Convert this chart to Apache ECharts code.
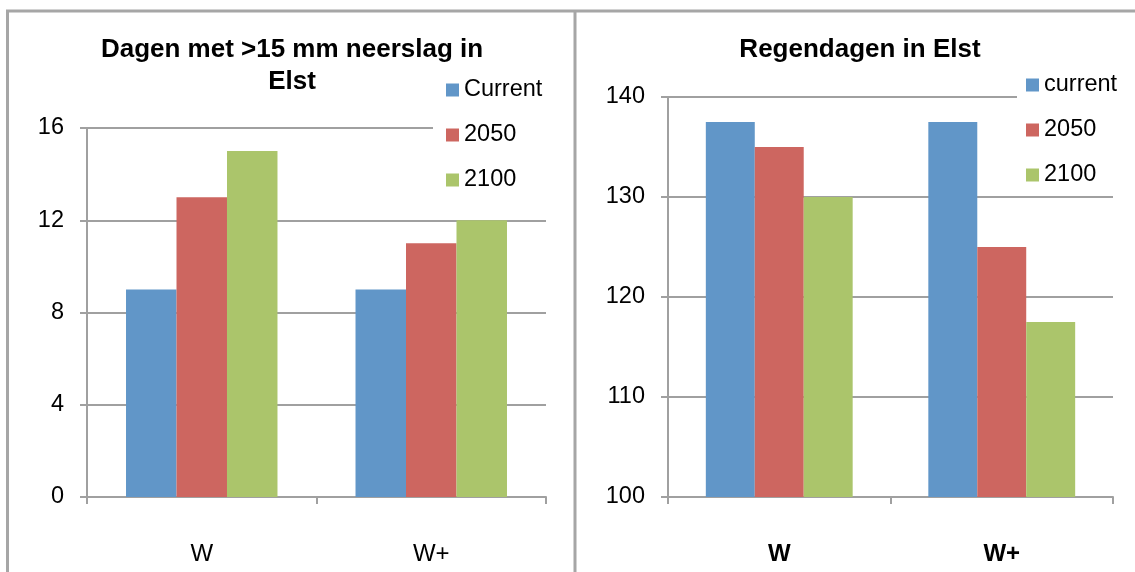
<!DOCTYPE html>
<html>
<head>
<meta charset="utf-8">
<script src="https://cdn.jsdelivr.net/npm/echarts@6/dist/echarts.min.js"></script>
<style>
html, body { margin: 0; padding: 0; background: #fff; }
#main { width: 1135px; height: 572px; }
</style>
</head>
<body>
<div id="main"></div>
<script>
// categories shared by both panels
const categories = ['W', 'W+']
// left panel: days with >15 mm precipitation
const leftCurrent = [9, 9]
const left2050 = [13, 11]
const left2100 = [15, 12]
// right panel: rain days
const rightCurrent = [137.5, 137.5]
const right2050 = [135, 125]
const right2100 = [130, 117.5]

const colors = ['#6196C8', '#CD6660', '#ABC56B']
const font = 'Arial, "Liberation Sans", sans-serif'
const gray = '#a0a0a0'

function yAxis (idx, min, max, interval) {
    return {
        type: 'value',
        gridIndex: idx,
        min: min,
        max: max,
        interval: interval,
        axisLine: { show: true, lineStyle: { color: gray, width: 2 } },
        axisTick: { show: true, length: 7, lineStyle: { color: gray, width: 2 } },
        splitLine: { lineStyle: { color: gray, width: 2 } },
        axisLabel: { margin: 23, color: '#000', fontSize: 23.5, fontFamily: font }
    }
}

function xAxis (idx, bold) {
    return {
        type: 'category',
        gridIndex: idx,
        data: categories,
        axisLine: { lineStyle: { color: gray, width: 2 } },
        axisTick: { show: true, length: 7, lineStyle: { color: gray, width: 2 } },
        axisLabel: {
            margin: 45,
            color: '#000',
            fontSize: 24,
            fontFamily: font,
            fontWeight: bold ? 'bold' : 'normal'
        }
    }
}

function bar (name, data, idx, color) {
    return {
        name: name,
        type: 'bar',
        xAxisIndex: idx,
        yAxisIndex: idx,
        data: data,
        barGap: 0,
        barCategoryGap: '34%',
        itemStyle: { color: color },
        emphasis: { disabled: true }
    }
}

// white legend box, it hides the top gridline like in the original
function legend (left, top, padLeft, names) {
    return {
        orient: 'vertical',
        left: left,
        top: top,
        data: names,
        icon: 'rect',
        itemWidth: 13,
        itemHeight: 13,
        itemGap: 21,
        itemTextGap: 4,
        padding: [12, 20, 3, padLeft],
        backgroundColor: '#fff',
        selectedMode: false,
        textStyle: { color: '#000', fontSize: 23.5, fontFamily: font, lineHeight: 23.5 }
    }
}

const option = {
    animation: false,
    backgroundColor: '#fff',
    title: [
        {
            text: 'Dagen met >15 mm neerslag in\nElst',
            left: 292,
            top: 34,
            padding: 0,
            textAlign: 'center',
            textStyle: { color: '#000', fontSize: 26, fontWeight: 'bold', fontFamily: font, lineHeight: 32 }
        },
        {
            text: 'Regendagen in Elst',
            left: 860,
            top: 34,
            padding: 0,
            textAlign: 'center',
            textStyle: { color: '#000', fontSize: 26, fontWeight: 'bold', fontFamily: font, lineHeight: 32 }
        }
    ],
    legend: [
        legend(433, 66, 13, ['Current', '2050', '2100']),
        legend(1017, 61, 9, ['current', '2050', '2100'])
    ],
    grid: [
        { left: 87, right: 589, top: 128, bottom: 75 },
        { left: 668, right: 22, top: 97, bottom: 75 }
    ],
    xAxis: [xAxis(0, false), xAxis(1, true)],
    yAxis: [yAxis(0, 0, 16, 4), yAxis(1, 100, 140, 10)],
    series: [
        bar('Current', leftCurrent, 0, colors[0]),
        bar('2050', left2050, 0, colors[1]),
        bar('2100', left2100, 0, colors[2]),
        bar('current', rightCurrent, 1, colors[0]),
        bar('2050', right2050, 1, colors[1]),
        bar('2100', right2100, 1, colors[2])
    ],
    // panel borders
    graphic: [
        { type: 'line', shape: { x1: 6, y1: 11, x2: 1135, y2: 11 }, style: { stroke: '#a6a6a6', lineWidth: 3 } },
        { type: 'line', shape: { x1: 7.5, y1: 11, x2: 7.5, y2: 572 }, style: { stroke: '#a6a6a6', lineWidth: 3 } },
        { type: 'line', shape: { x1: 575, y1: 11, x2: 575, y2: 572 }, style: { stroke: '#a6a6a6', lineWidth: 3 } }
    ]
}

const myChart = echarts.init(document.getElementById('main'))
myChart.setOption(option)
</script>
</body>
</html>
